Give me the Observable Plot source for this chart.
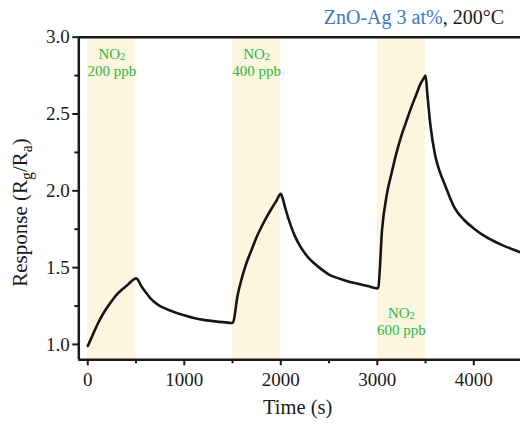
<!DOCTYPE html>
<html><head><meta charset="utf-8">
<script src="https://cdn.jsdelivr.net/npm/d3@7"></script>
<script src="https://cdn.jsdelivr.net/npm/@observablehq/plot@0.6"></script>
<style>body{margin:0;background:#fff;} svg{display:block}</style>
</head><body><div id="chart"></div>
<script>
// ---- data ----
const time = [
  0, 50, 100, 150, 200, 250, 300, 350, 400, 450, 480, 500,
  520, 550, 600, 650, 700, 750, 800, 900, 1000, 1100, 1200, 1300, 1400, 1500,
  1510, 1550, 1600, 1650, 1700, 1750, 1800, 1850, 1900, 1950, 2000,
  2020, 2050, 2100, 2150, 2200, 2300, 2400, 2500, 2600, 2700, 2800, 2900, 3000,
  3010, 3050, 3100, 3150, 3200, 3250, 3300, 3350, 3400, 3450, 3480, 3500,
  3520, 3550, 3600, 3650, 3700, 3750, 3800, 3900, 4000, 4100, 4200, 4300, 4400, 4484
];
const response = [
  0.99, 1.06, 1.13, 1.19, 1.24, 1.285, 1.325, 1.355, 1.38, 1.41, 1.425, 1.43,
  1.42, 1.385, 1.34, 1.30, 1.272, 1.25, 1.235, 1.21, 1.19, 1.172, 1.16, 1.152, 1.145, 1.14,
  1.15, 1.31, 1.44, 1.54, 1.62, 1.70, 1.765, 1.825, 1.88, 1.93, 1.98,
  1.95, 1.88, 1.78, 1.70, 1.64, 1.555, 1.50, 1.455, 1.43, 1.41, 1.395, 1.38, 1.365,
  1.37, 1.75, 1.98, 2.12, 2.25, 2.36, 2.45, 2.54, 2.62, 2.70, 2.73, 2.75,
  2.62, 2.43, 2.23, 2.12, 2.04, 1.96, 1.89, 1.81, 1.755, 1.71, 1.675, 1.645, 1.62, 1.60
];
const windowStart = [0, 1500, 3000];
const windowEnd = [500, 2000, 3500];
const gasLabel = "NO2";
const concLabels = ["200 ppb", "400 ppb", "600 ppb"];
const xMajorTicks = [0, 1000, 2000, 3000, 4000];
const xMinorTicks = [500, 1500, 2500, 3500];
const yMajorTicks = [1.0, 1.5, 2.0, 2.5, 3.0];
const yMinorTicks = [1.25, 1.75, 2.25, 2.75];
const titleMaterial = "ZnO-Ag 3 at%";
const titleTemp = ", 200°C";
const xLabel = "Time (s)";

// ---- layout constants ----
const labelX = [250, 1750, 3250];
const labelY = [2.747, 2.747, 1.062];

const data = time.map((t, i) => ({t, r: response[i]}));
const windows = windowStart.map((s, i) => ({s, e: windowEnd[i]}));
const annos = labelX.map((x, i) => ({x, y: labelY[i], label: gasLabel + "\n" + concLabels[i]}));

const green = "#2cb54c";
const ink = "#1a1a1a";
const xDom = [-93, 4484];
const yDom = [0.9, 3.0];

const plot = Plot.plot({
  width: 520, height: 423,
  marginLeft: 78.3, marginRight: 0, marginTop: 36.7, marginBottom: 63.7,
  style: {fontFamily: "'Liberation Serif', serif", fontSize: "19px", color: ink, background: "#fff"},
  x: {domain: xDom},
  y: {domain: yDom},
  marks: [
    Plot.rect(windows, {x1: "s", x2: "e", fill: "#fdf6de"}),
    Plot.line(data, {x: "t", y: "r", stroke: "#151515", strokeWidth: 2.6, curve: "monotone-x", clip: true}),
    Plot.axisX(xMajorTicks, {tickSize: 6, tickPadding: 7, strokeWidth: 2, label: null, tickFormat: d => String(d)}),
    Plot.axisX(xMinorTicks, {tickSize: 4, strokeWidth: 2, label: null, tickFormat: () => ""}),
    Plot.axisY(yMajorTicks, {tickSize: 6, tickPadding: 3, strokeWidth: 2, label: null, tickFormat: d3.format(".1f")}),
    Plot.axisY(yMinorTicks, {tickSize: 4, strokeWidth: 2, label: null, tickFormat: () => ""}),
    Plot.ruleY([yDom[0]], {stroke: ink, strokeWidth: 2.5}),
    Plot.ruleY([yDom[1]], {stroke: ink, strokeWidth: 2.5}),
    Plot.ruleX([xDom[0]], {stroke: ink, strokeWidth: 2.5}),
    Plot.text(annos, {x: "x", y: "y", text: "label", fill: green, fontSize: 15, lineAnchor: "bottom", lineHeight: 1.15}),
    Plot.text([xLabel], {frameAnchor: "bottom", dy: 54, dx: -2, lineAnchor: "bottom", fontSize: 20.5, fill: ink})
  ]
});

const svg = d3.select(plot);
// subscript in NO2
svg.selectAll("text, tspan").filter(function () {
  return this.childElementCount === 0 && this.textContent === "NO2";
}).each(function () {
  const t = d3.select(this);
  t.text("NO");
  const sub = document.createElementNS("http://www.w3.org/2000/svg", "tspan");
  sub.setAttribute("dy", "0.15em");
  sub.setAttribute("font-size", "0.7em");
  sub.textContent = "2";
  this.parentNode.insertBefore(sub, this.nextSibling);
  const next = sub.nextSibling;
  if (next && next.getAttribute) {
    const dy = parseFloat(next.getAttribute("dy") || "0");
    next.setAttribute("dy", (dy - 0.15 * 0.7) + "em");
  }
});
// title
const title = svg.append("text").attr("x", 504).attr("y", 24).attr("text-anchor", "end")
  .attr("font-size", 20).attr("font-family", "'Liberation Serif', serif");
title.append("tspan").attr("fill", "#3b79c3").text(titleMaterial);
title.append("tspan").attr("fill", ink).text(titleTemp);
// y label with subscripts
const yl = svg.append("text").attr("transform", "translate(27,212.5) rotate(-90)")
  .attr("text-anchor", "middle").attr("font-size", 21).attr("fill", ink)
  .attr("font-family", "'Liberation Serif', serif");
yl.append("tspan").text("Response (R");
yl.append("tspan").attr("font-size", "0.75em").attr("dy", "0.3em").text("g");
yl.append("tspan").attr("dy", "-0.225em").text("/R");
yl.append("tspan").attr("font-size", "0.75em").attr("dy", "0.3em").text("a");
yl.append("tspan").attr("dy", "-0.225em").text(")");

document.getElementById("chart").appendChild(plot);
</script>
</body></html>
